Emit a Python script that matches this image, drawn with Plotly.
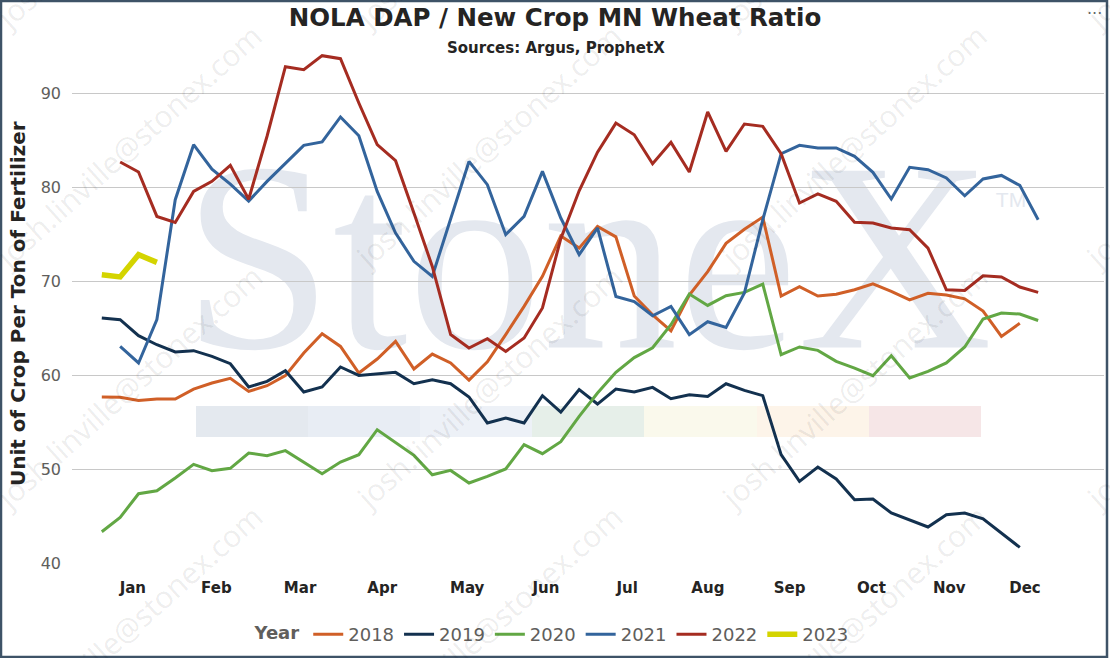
import plotly.graph_objects as go

# weekly ratio values
years = ['2018', '2019', '2020', '2021', '2022', '2023']
first_week = [1, 1, 1, 2, 2, 1]

r2018 = [57.66, 57.62, 57.3, 57.45, 57.45, 58.5, 59.15, 59.64, 58.26, 58.86,
         59.93, 62.34, 64.39, 63.04, 60.21, 61.7, 63.57, 60.64, 62.23, 61.28,
         59.45, 61.4, 64.3, 67.3, 70.5, 74.8, 73.5, 75.8, 74.7, 68.4,
         66.4, 64.7, 68.5, 71.0, 74.0, 75.5, 76.8, 68.4, 69.4, 68.4,
         68.6, 69.07, 69.7, 68.9, 68.0, 68.7, 68.5, 68.1, 66.8, 64.1,
         65.5]
r2019 = [66.06, 65.88, 64.18, 63.22, 62.45, 62.59, 61.98, 61.2, 58.72, 59.32,
         60.46, 58.19, 58.72, 60.85, 59.96, 60.14, 60.28, 59.07, 59.5, 59.07,
         57.66, 54.9, 55.43, 54.9, 57.8, 56.05, 58.44, 56.91, 58.5, 58.19,
         58.68, 57.48, 57.9, 57.72, 59.07, 58.36, 57.8, 51.52, 48.68, 50.21,
         48.94, 46.73, 46.81, 45.32, 44.6, 43.83, 45.14, 45.32, 44.71, 43.19,
         41.66]
r2020 = [43.33, 44.85, 47.37, 47.69, 49.04, 50.49, 49.82, 50.07, 51.7, 51.41,
         51.95, 50.7, 49.5, 50.74, 51.52, 54.18, 52.77, 51.45, 49.39, 49.85,
         48.51, 49.21, 50.0, 52.59, 51.63, 52.9, 55.6, 58.09, 60.28, 61.85,
         62.9, 65.35, 68.62, 67.4, 68.44, 68.79, 69.68, 62.16, 62.98, 62.62,
         61.45, 60.74, 59.93, 62.05, 59.68, 60.38, 61.28, 62.98, 65.96, 66.6,
         66.49, 65.8]
r2021 = [63.04, 61.28, 65.9, 78.65, 84.5, 81.9, 80.3, 78.5, 80.6, 82.55,
         84.43, 84.79, 87.45, 85.46, 79.53, 75.1, 72.09, 70.49, 76.6, 82.72,
         80.25, 74.93, 76.87, 81.66, 76.7, 72.8, 75.64, 68.36, 67.8, 66.3,
         67.3, 64.29, 65.67, 65.07, 68.72, 76.5, 83.54, 84.43, 84.15, 84.15,
         83.26, 81.56, 78.72, 82.09, 81.84, 80.96, 79.07, 80.85, 81.23, 80.17,
         76.52]
r2022 = [82.66, 81.6, 76.87, 76.23, 79.53, 80.6, 82.3, 78.7, 85.4, 92.8,
         92.48, 93.97, 93.65, 88.94, 84.5, 82.8, 77.23, 71.55, 64.3, 62.87,
         63.86, 62.51, 63.94, 67.13, 74.5, 79.6, 83.7, 86.8, 85.56, 82.48,
         84.75, 81.6, 87.98, 83.79, 86.7, 86.45, 83.54, 78.3, 79.26, 78.47,
         76.24, 76.17, 75.64, 75.46, 73.5, 69.07, 69.0, 70.56, 70.43, 69.36,
         68.79]
r2023 = [70.67, 70.43, 72.8, 71.98]

series = [r2018, r2019, r2020, r2021, r2022, r2023]
colors = ['#D05F27', '#13314F', '#62A744', '#33649C', '#A52C21', '#D4D400']
widths = [3, 3, 3, 3, 3, 5.5]

month_pos = [2.69, 7.24, 11.8, 16.27, 20.9, 25.19, 29.61, 34.01, 38.46, 42.92, 47.16, 51.28]
month_names = ['Jan', 'Feb', 'Mar', 'Apr', 'May', 'Jun',
               'Jul', 'Aug', 'Sep', 'Oct', 'Nov', 'Dec']

FONT = 'DejaVu Sans'
L, R, T, B = 72, 6, 40, 95
PW, PH = 1110 - L - R, 658 - T - B


def px(x):
    return (x - L) / PW


def py(y):
    return (658 - B - y) / PH


fig = go.Figure()
for name, start, vals, col, w in zip(years, first_week, series, colors, widths):
    fig.add_trace(go.Scatter(
        x=list(range(start, start + len(vals))), y=vals, name=name,
        mode='lines', line=dict(color=col, width=w)))

shapes = []
# StoneX logo watermark behind the lines
strip = [(196, '#E4E9EF'), (308, '#E8EDF4'), (420, '#EDF1F7'), (532, '#E6EFE9'),
         (644, '#FAF9EC'), (757, '#FDF4E9'), (869, '#F6E6E7')]
for i, (x0, c) in enumerate(strip):
    x1 = strip[i + 1][0] if i + 1 < len(strip) else 981
    shapes.append(dict(type='rect', xref='paper', yref='paper', layer='below',
                       x0=px(x0), x1=px(x1), y0=py(437), y1=py(406),
                       fillcolor=c, line=dict(width=0)))
shapes.append(dict(type='rect', xref='paper', yref='paper', layer='below',
                   x0=px(190), x1=px(985), y0=py(362), y1=py(92),
                   fillcolor='rgba(0,0,0,0)', line=dict(width=0),
                   label=dict(text='StoneX', textposition='middle center',
                              font=dict(family='Liberation Serif', size=270, color='#E4E8EF'))))
shapes.append(dict(type='rect', xref='paper', yref='paper', layer='below',
                   x0=px(990), x1=px(1032), y0=py(210), y1=py(184),
                   fillcolor='rgba(0,0,0,0)', line=dict(width=0),
                   label=dict(text='TM', textposition='middle center',
                              font=dict(family='Liberation Sans', size=21, color='#E4E8EF'))))
# frame
shapes.append(dict(type='rect', xref='paper', yref='paper',
                   x0=px(1), x1=px(1107), y0=py(657), y1=py(1),
                   line=dict(color='#3E5367', width=2.5)))

annotations = []
# email watermark tiles
for sx in [-30, 330, 695, 1060]:
    for sy in [50, 290, 530, 770]:
        annotations.append(dict(
            xref='paper', yref='paper', x=px(sx + 158), y=py(sy - 143),
            text='josh.linville@stonex.com', showarrow=False, textangle=-42,
            font=dict(family='Open Sans', size=30, color='rgba(0,0,0,0.085)'),
            xanchor='center', yanchor='middle'))
annotations.append(dict(
    xref='paper', yref='paper', x=px(556), y=py(48),
    text='<b>Sources: Argus, ProphetX</b>', showarrow=False,
    font=dict(family=FONT, size=15, color='#252423'),
    xanchor='center', yanchor='middle'))
annotations.append(dict(
    xref='paper', yref='paper', x=px(18), y=py(304),
    text='<b>Unit of Crop Per Ton of Fertilizer</b>', showarrow=False, textangle=-90,
    font=dict(family=FONT, size=20, color='#252423'),
    xanchor='center', yanchor='middle'))
annotations.append(dict(
    xref='paper', yref='paper', x=px(1094), y=py(13),
    text='···', showarrow=False,
    font=dict(family=FONT, size=16, color='#666666'),
    xanchor='center', yanchor='middle'))

fig.update_layout(
    width=1110, height=658,
    template='none',
    paper_bgcolor='white', plot_bgcolor='white',
    margin=dict(l=L, r=R, t=T, b=B, autoexpand=False),
    title=dict(text='<b>NOLA DAP / New Crop MN Wheat Ratio</b>',
               x=0.5, xref='container', xanchor='center',
               y=1 - 17 / 658, yref='container', yanchor='middle',
               font=dict(family=FONT, size=24.5, color='#252423')),
    xaxis=dict(range=[1 - (101.8 - L) / 18.36, 1 - (101.8 - L) / 18.36 + PW / 18.36],
               tickmode='array', tickvals=month_pos, ticktext=month_names,
               showgrid=False, zeroline=False, showline=False, ticks='',
               ticklabelstandoff=14,
               tickfont=dict(family=FONT, size=15, color='#252423', weight='bold')),
    yaxis=dict(range=[40, 40 + PH / 9.4], tickmode='array',
               tickvals=[40, 50, 60, 70, 80, 90],
               showgrid=True, gridcolor='#C8C8C8', gridwidth=1,
               zeroline=False, showline=False, ticks='', ticklabelstandoff=10,
               tickfont=dict(family=FONT, size=16, color='#605E5C')),
    legend=dict(orientation='h', x=px(553), xanchor='center',
                y=py(616), yanchor='top',
                title=dict(text='<b>Year</b>', font=dict(family=FONT, size=18, color='#605E5C')),
                font=dict(family=FONT, size=18, color='#605E5C'),
                itemwidth=30, bgcolor='rgba(0,0,0,0)'),
    shapes=shapes,
    annotations=annotations,
)

# drop the browser's default page margin so the figure sits at the top-left corner
fig.write_html('out.html', config={'displayModeBar': False},
               post_script="document.body.style.margin='0px';")
